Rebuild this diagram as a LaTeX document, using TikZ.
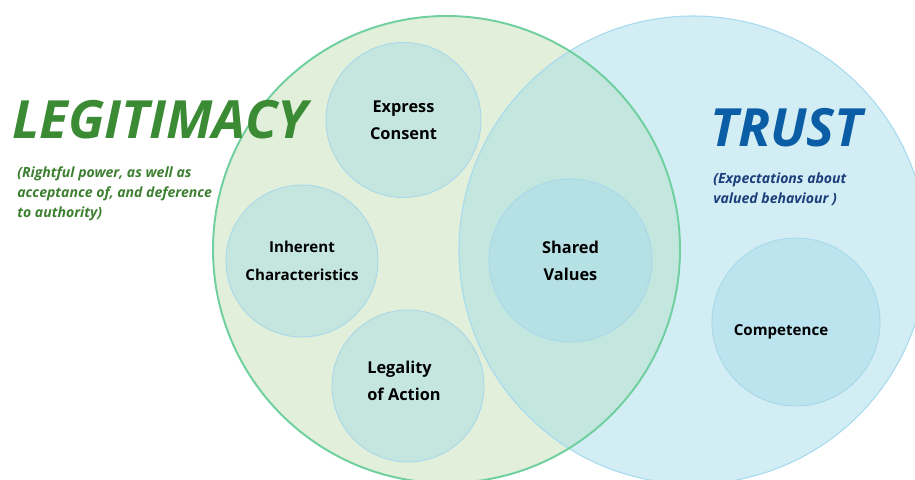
\documentclass[tikz,border=0pt]{standalone}
\usepackage{fontspec}
\setmainfont{Open Sans}
\usepackage{xcolor}

\definecolor{legitfill}{HTML}{E1EFDB}
\definecolor{legitline}{HTML}{6FCF9F}
\definecolor{trustfill}{HTML}{D3EDF5}
\definecolor{trustline}{HTML}{A6DAEE}
\definecolor{overlapfill}{HTML}{C3E6DF}
\definecolor{partfill}{HTML}{C4E6DE}
\definecolor{partline}{HTML}{A8D8EA}
\definecolor{sharedfill}{HTML}{B5E0E4}
\definecolor{compfill}{HTML}{BCE4EF}
\definecolor{legittext}{HTML}{3B8A34}
\definecolor{legitsub}{HTML}{3D7F31}
\definecolor{trusttext}{HTML}{0B5DA5}
\definecolor{trustsub}{HTML}{1B3F7A}

\tikzset{
  part/.style={circle, draw=partline, line width=0.5pt, fill=partfill, inner sep=0pt,
    align=center, font=\fontsize{9.3}{15.3}\selectfont\bfseries},
  heading/.style={inner sep=0pt, anchor=base west, font=\fontsize{30}{32}\selectfont\bfseries\itshape},
  subheading/.style={inner sep=0pt, anchor=base west, align=left,
    font=\fontsize{8}{11.6}\selectfont\bfseries\itshape}
}

\begin{document}
\begin{tikzpicture}
      \useasboundingbox (0,0) rectangle (18.3,9.58);

      % the two big sets
      \fill [legitfill] (8.93,4.59) circle (4.67);
      \fill [trustfill] (13.86,4.58) circle (4.68);
      \begin{scope}
        \clip (8.93,4.59) circle (4.67);
        \fill [overlapfill] (13.86,4.58) circle (4.68);
      \end{scope}
      \node at (13.86,4.58) [circle, draw=trustline, line width=0.6pt, minimum size=9.36cm, name=trust] {};
      \node at (8.93,4.59) [circle, draw=legitline, line width=1.1pt, minimum size=9.34cm, name=legit] {};

      % parts of legitimacy
      \node at (8.07,7.18) [part, minimum size=3.1cm, name=consent]
      {Express\\Consent};
      \node at (6.04,4.36) [part, minimum size=3.04cm, name=inherent,
        font=\fontsize{8.6}{15.8}\selectfont\bfseries]
      {Inherent\\Characteristics};
      \node at (8.16,1.86) [part, minimum size=3.04cm, name=legality] {};
      \node at (8.08,1.96) [align=left, inner sep=0pt, name=legalitytext,
        font=\fontsize{9.3}{15.3}\selectfont\bfseries]
      {Legality\\of Action};

      % shared part and trust part
      \node at (11.41,4.37) [part, fill=sharedfill, minimum size=3.26cm, name=shared]
      {Shared\\Values};
      \node at (15.92,3.14) [part, fill=compfill, minimum size=3.36cm, name=competence] {};
      \node at (15.62,2.95) [inner sep=0pt, name=competencetext,
        font=\fontsize{8.6}{12}\selectfont\bfseries]
      {Competence};

      % headings
      \node at (0.24,6.8) [heading, text=legittext, name=legitimacy] {LEGITIMACY};
      \node at (0.34,5.22) [subheading, text=legitsub, name=legitnote]
      {(Rightful power, as well as\\acceptance of, and deference\\to authority)};
      \node at (14.2,6.64) [heading, text=trusttext, name=trusttitle] {TRUST};
      \node at (14.26,5.5) [subheading, text=trustsub, name=trustnote]
      {(Expectations about\\valued behaviour )};
\end{tikzpicture}
\end{document}
